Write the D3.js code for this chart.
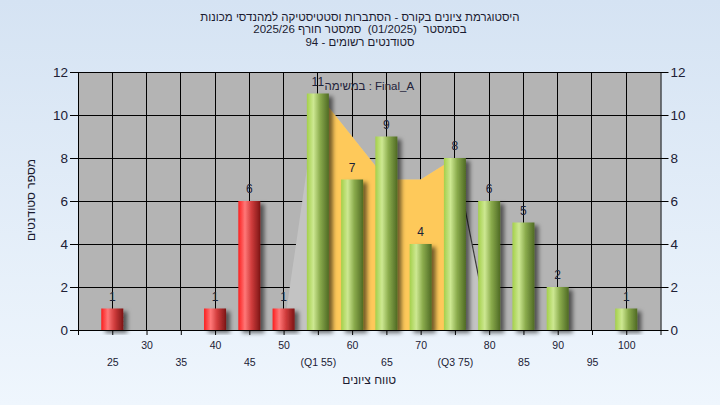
<!DOCTYPE html>
<html><head><meta charset="utf-8">
<script src="https://cdn.jsdelivr.net/npm/d3@7/dist/d3.min.js"></script>
<style>
body{margin:0;background:#fff;}
svg{display:block;font-family:"Liberation Sans",Arial,"DejaVu Sans",sans-serif;}
.pre{white-space:pre;}
</style>
</head><body>
<svg id="chart" width="720" height="405"></svg>
<script>
// ---------- data ----------
const titleLines = [
  "היסטוגרמת ציונים בקורס - הסתברות וסטטיסטיקה למהנדסי מכונות",
  "בסמסטר  (01/2025)  סמסטר חורף 2025/26",
  "סטודנטים רשומים - 94"
];
const legendText = "במשימה : Final_A";
const xTitle = "טווח ציונים";
const yTitle = "מספר סטודנטים";

const categories = [25,30,35,40,45,50,55,60,65,70,75,80,85,90,95,100];
const tickLabels = ["25","30","35","40","45","50","(Q1 55)","60","65","70","(Q3 75)","80","85","90","95","100"];
const counts     = [1,0,0,1,6,1,11,7,9,4,8,6,5,2,0,1];
const barGroup   = ["fail","fail","fail","fail","fail","fail","pass","pass","pass","pass","pass","pass","pass","pass","pass","pass"];

const envelopeX = [50,55,60,65,70,75,80];
const envelopeY = [0,11,9,7,7,8,0];
const iqrX = [55,60,65,70,75];
const iqrY = [11,9,7,7,8];

const yTicks = [0,2,4,6,8,10,12];
const xAxisTicks = [20,25,30,35,40,45,50,55,60,65,70,75,80,85,90,95,100,105];

// ---------- layout ----------
const W = 720, H = 405;
const plot = {l:78, r:660.5, t:72, b:330};
const svg = d3.select("#chart");
const defs = svg.append("defs");

const bg = defs.append("linearGradient").attr("id","bg").attr("x1",0).attr("y1",0).attr("x2",0).attr("y2",1);
bg.append("stop").attr("offset","0%").attr("stop-color","#d5e3f3");
bg.append("stop").attr("offset","100%").attr("stop-color","#eff6fd");

function cyl(id, stops){
  const g = defs.append("linearGradient").attr("id",id).attr("x1",0).attr("y1",0).attr("x2",1).attr("y2",0);
  stops.forEach(s=>g.append("stop").attr("offset",s[0]).attr("stop-color",s[1]));
}
cyl("gFail",[["0%","#fb1e1e"],["30%","#ff7878"],["60%","#d03c3c"],["100%","#7c1515"]]);
cyl("gPass",[["0%","#a4d04a"],["30%","#cde892"],["60%","#8aab4c"],["100%","#4f6a24"]]);

const f = defs.append("filter").attr("id","shadow").attr("x","-20%").attr("y","-20%").attr("width","170%").attr("height","140%");
f.append("feDropShadow").attr("dx",4).attr("dy",3).attr("stdDeviation",2.2).attr("flood-color","#000").attr("flood-opacity",0.55);

svg.append("rect").attr("width",W).attr("height",H).attr("fill","url(#bg)");

const x = d3.scaleLinear().domain([20,105]).range([plot.l, plot.r]);
const y = d3.scaleLinear().domain([0,12]).range([plot.b, plot.t]);

// plot background
svg.append("rect").attr("x",plot.l).attr("y",plot.t).attr("width",plot.r-plot.l).attr("height",plot.b-plot.t).attr("fill","#b4b4b4");

// grid
const grid = svg.append("g").attr("stroke","#000").attr("stroke-width",1).attr("shape-rendering","crispEdges");
grid.selectAll(".vx").data(categories).join("line")
  .attr("x1",d=>x(d)).attr("x2",d=>x(d)).attr("y1",plot.t).attr("y2",plot.b);
grid.selectAll(".hy").data(yTicks.filter(d=>d>0)).join("line")
  .attr("x1",plot.l).attr("x2",plot.r).attr("y1",d=>y(d)).attr("y2",d=>y(d));

// envelope area (light gray)
const envPts = envelopeX.map((v,i)=>[v,envelopeY[i]]);
svg.append("path").datum(envPts)
  .attr("d", d3.area().x(d=>x(d[0])).y0(y(0)).y1(d=>y(d[1])))
  .attr("fill","#c3c3c3");
// dark edge on descending side
svg.append("path").datum(envPts.slice(-2))
  .attr("d", d3.line().x(d=>x(d[0])).y(d=>y(d[1])))
  .attr("stroke","#3a3a3a").attr("stroke-width",1.2).attr("fill","none");

// IQR area (yellow)
const iqrPts = iqrX.map((v,i)=>[v,iqrY[i]]);
svg.append("path").datum(iqrPts)
  .attr("d", d3.area().x(d=>x(d[0])).y0(y(0)).y1(d=>y(d[1])))
  .attr("fill","#fec95a");

// bars
const barW = 22;
const bars = categories.map((c,i)=>({c, v:counts[i], g:barGroup[i]})).filter(d=>d.v>0);
svg.append("g").selectAll("rect").data(bars).join("rect")
  .attr("x",d=>x(d.c)-barW/2).attr("width",barW)
  .attr("y",d=>y(d.v)).attr("height",d=>y(0)-y(d.v))
  .attr("fill",d=>d.g==="fail"?"url(#gFail)":"url(#gPass)")
  .attr("filter","url(#shadow)");

// bar labels
svg.append("g").selectAll("text").data(bars).join("text")
  .attr("x",d=>x(d.c)).attr("y",d=>y(d.v)-8)
  .attr("text-anchor","middle").attr("font-size",12).attr("fill","#1a2238")
  .text(d=>d.v);

// axes
const axisL = d3.axisLeft(y).tickValues(yTicks).tickSize(8).tickSizeOuter(0).tickPadding(2);
const axisR = d3.axisRight(y).tickValues(yTicks).tickSize(8).tickSizeOuter(0).tickPadding(2);
const gl = svg.append("g").attr("transform",`translate(${plot.l},0)`).call(axisL);
const gr = svg.append("g").attr("transform",`translate(${plot.r},0)`).call(axisR);
[gl,gr].forEach(g=>{
  g.selectAll("text").attr("font-size",13.5).attr("fill","#202035").attr("font-family","\"Liberation Sans\",Arial,sans-serif");
  g.selectAll("line,path").attr("stroke","#000");
});

const labelOf = d3.scaleOrdinal().domain(categories).range(tickLabels);
const axisB = d3.axisBottom(x).tickValues(xAxisTicks).tickSize(5).tickSizeOuter(0)
  .tickFormat(d=>categories.includes(d)?labelOf(d):"");
const gb = svg.append("g").attr("transform",`translate(0,${plot.b})`).call(axisB);
gb.selectAll("line,path").attr("stroke","#000");
gb.selectAll("text").attr("font-size",10.5).attr("fill","#202035").attr("font-family","\"Liberation Sans\",Arial,sans-serif")
  .attr("dy",null)
  .attr("y",d=>{const i=categories.indexOf(d); return (i%2===1)?19:36;});

// titles
const tg = svg.append("g").attr("font-size",11.5).attr("fill","#1b1b30").attr("text-anchor","middle");
const tY = [20.5,33,45.5];
titleLines.forEach((t,i)=>tg.append("text").attr("class","pre").attr("x",360).attr("y",tY[i]).attr("direction","rtl").attr("unicode-bidi","embed").text(t));

svg.append("text").attr("x",(plot.l+plot.r)/2).attr("y",90).attr("text-anchor","middle")
  .attr("font-size",11.5).attr("fill","#22223a").text(legendText);

svg.append("text").attr("x",(plot.l+plot.r)/2).attr("y",384).attr("text-anchor","middle")
  .attr("font-size",12).attr("fill","#1b1b30").attr("direction","rtl").text(xTitle);

svg.append("text").attr("transform","translate(35,200) rotate(-90)").attr("text-anchor","middle")
  .attr("font-size",12).attr("fill","#1b1b30").attr("direction","rtl").text(yTitle);
</script>
</body></html>
